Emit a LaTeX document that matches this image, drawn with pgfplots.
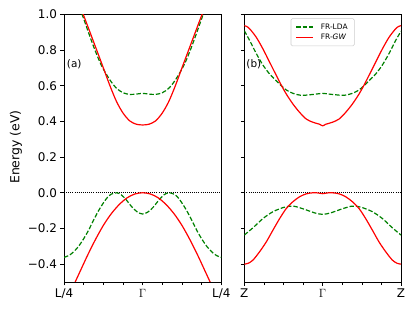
\documentclass[border=0pt]{standalone}
\usepackage{pgfplots}
\pgfplotsset{compat=1.18}
\usepackage{fontspec}
\setmainfont{DejaVu Sans}
\definecolor{mplgreen}{RGB}{0,128,0}
\definecolor{mplred}{RGB}{255,0,0}

\pgfplotsset{
  bandaxis/.style={
    scale only axis, width=157.3bp, height=267.7bp,
    xmin=-1, xmax=1, ymin=-0.5, ymax=1.0,
    tick align=outside, tick pos=left,
    xtick={-1,0,1},
    minor xtick={-0.75,-0.5,-0.25,0.25,0.5,0.75},
    ytick={-0.4,-0.2,0,0.2,0.4,0.6,0.8,1.0},
    major tick length=3.5bp, minor tick length=3bp,
    every tick/.style={black, line width=0.8bp},
    minor tick style={black, line width=0.6bp},
    axis line style={black, line width=0.8bp},
    tick label style={font=\fontsize{12}{14}\selectfont},
  },
  gw/.style={mplred, line width=1.2bp, smooth},
  lda/.style={mplgreen, line width=1.2bp, dash pattern=on 4.5bp off 2bp, smooth},
  zeroline/.style={black, line width=0.8bp, dash pattern=on 0.8bp off 1.3bp},
}

\begin{document}
\begin{tikzpicture}
\path (0,0) rectangle (415bp,311bp);

% ---------------- panel (a)
\begin{axis}[bandaxis, at={(64bp,29bp)}, anchor=south west,
  xticklabels={L/4,{\fontsize{13}{14}\selectfont$\Gamma$},L/4},
  yticklabels={−0.4,−0.2,0.0,0.2,0.4,0.6,0.8,1.0},
  every axis y label/.style={at={(axis description cs:-0.305,0.504)}, rotate=90, anchor=center},
  ylabel={Energy (eV)},
  ylabel style={font=\fontsize{12.5}{14}\selectfont},
]
\addplot[zeroline] coordinates {(-1,0) (1,0)};
% LDA conduction
\addplot[lda] coordinates {(-0.83,1.07) (-0.77,1.0) (-0.69,0.90) (-0.607,0.80) (-0.52,0.71) (-0.416,0.632) (-0.331,0.585) (-0.247,0.56) (-0.162,0.551) (-0.08,0.553) (0,0.557) (0.08,0.553) (0.162,0.551) (0.247,0.56) (0.331,0.585) (0.416,0.632) (0.52,0.71) (0.607,0.80) (0.69,0.90) (0.77,1.0) (0.83,1.07)};
% GW conduction
\addplot[gw] coordinates {(-0.82,1.07) (-0.756,1.0) (-0.67,0.90) (-0.585,0.80) (-0.50,0.70) (-0.416,0.60) (-0.331,0.51) (-0.247,0.445) (-0.162,0.402) (-0.08,0.384) (0,0.38) (0.08,0.384) (0.162,0.402) (0.247,0.445) (0.331,0.51) (0.416,0.60) (0.50,0.70) (0.585,0.80) (0.67,0.90) (0.756,1.0) (0.82,1.07)};
% LDA valence
\addplot[lda] coordinates {(-1,-0.362) (-0.94,-0.352) (-0.883,-0.333) (-0.82,-0.303) (-0.756,-0.262) (-0.69,-0.212) (-0.628,-0.157) (-0.56,-0.10) (-0.501,-0.058) (-0.45,-0.027) (-0.40,-0.008) (-0.331,0) (-0.27,-0.012) (-0.204,-0.042) (-0.14,-0.078) (-0.07,-0.107) (0,-0.119) (0.07,-0.107) (0.14,-0.078) (0.204,-0.042) (0.27,-0.012) (0.331,0) (0.40,-0.008) (0.45,-0.027) (0.501,-0.058) (0.56,-0.10) (0.628,-0.157) (0.69,-0.212) (0.756,-0.262) (0.82,-0.303) (0.883,-0.333) (0.94,-0.352) (1,-0.362)};
% GW valence
\addplot[gw] coordinates {(-0.95,-0.585) (-0.9,-0.54) (-0.8,-0.445) (-0.7,-0.35) (-0.6,-0.262) (-0.5,-0.183) (-0.4,-0.118) (-0.3,-0.067) (-0.2,-0.029) (-0.1,-0.007) (0,0) (0.1,-0.007) (0.2,-0.029) (0.3,-0.067) (0.4,-0.118) (0.5,-0.183) (0.6,-0.262) (0.7,-0.35) (0.8,-0.445) (0.9,-0.54) (0.95,-0.585)};
\node[anchor=west, font=\fontsize{10.5}{12}\selectfont, inner sep=0pt] at (axis cs:-0.965,0.72) {(a)};
\end{axis}

% ---------------- panel (b)
\begin{axis}[bandaxis, at={(244.3bp,29bp)}, anchor=south west, width=156.7bp,
  xticklabels={Z,{\fontsize{13}{14}\selectfont$\Gamma$},Z},
  yticklabels={},
  legend cell align=left,
  legend style={at={(0.5,0.985)}, anchor=north, font=\fontsize{7.5}{8.5}\selectfont,
    draw=black!20, line width=0.6bp, rounded corners=1.5bp, fill=white,
    inner xsep=4.5bp, inner ysep=3.5bp, row sep=0.3bp,
    nodes={inner xsep=1bp, inner ysep=1.5bp},
    /tikz/every odd column/.append style={column sep=6bp}},
]
\addlegendimage{legend image code/.code={\draw[mplgreen, line width=1.4bp, dash pattern=on 4.5bp off 2bp] (0bp,0bp) -- (17bp,0bp);}}
\addlegendentry{\makebox[28bp][l]{FR-LDA}}
\addlegendimage{legend image code/.code={\fill[mplred, draw=none, rounded corners=0pt] (0bp,-0.7bp) rectangle (17bp,0.7bp);}}
\addlegendentry{\makebox[28bp][l]{FR-\textit{GW}}}
% LDA conduction
\addplot[lda, forget plot] coordinates {(-1,0.908) (-0.93,0.852) (-0.847,0.78) (-0.761,0.715) (-0.676,0.665) (-0.592,0.628) (-0.528,0.600) (-0.464,0.576) (-0.379,0.557) (-0.272,0.546) (-0.166,0.549) (-0.08,0.553) (0,0.557) (0.08,0.553) (0.166,0.549) (0.272,0.546) (0.379,0.557) (0.464,0.576) (0.528,0.600) (0.592,0.628) (0.676,0.665) (0.761,0.715) (0.847,0.78) (0.93,0.852) (1,0.905)};
% GW conduction
\addplot[gw, forget plot] coordinates {(-1,0.936) (-0.97,0.932) (-0.93,0.918) (-0.847,0.871) (-0.761,0.805) (-0.676,0.731) (-0.592,0.658) (-0.528,0.603) (-0.464,0.553) (-0.379,0.497) (-0.293,0.45) (-0.209,0.413) (-0.124,0.395) (-0.04,0.384) (0,0.375) (0.04,0.384) (0.124,0.395) (0.209,0.413) (0.293,0.45) (0.379,0.497) (0.464,0.553) (0.528,0.603) (0.592,0.658) (0.676,0.731) (0.761,0.805) (0.847,0.871) (0.93,0.918) (0.97,0.932) (1,0.936)};
\addplot[zeroline, forget plot] coordinates {(-1,0) (1,0)};
% LDA valence
\addplot[lda, forget plot] coordinates {(-1,-0.237) (-0.889,-0.196) (-0.761,-0.144) (-0.634,-0.106) (-0.506,-0.083) (-0.45,-0.077) (-0.37,-0.075) (-0.293,-0.084) (-0.204,-0.097) (-0.1,-0.113) (0,-0.121) (0.1,-0.113) (0.204,-0.097) (0.293,-0.084) (0.37,-0.075) (0.45,-0.077) (0.506,-0.083) (0.634,-0.106) (0.761,-0.144) (0.889,-0.196) (1,-0.237)};
% GW valence
\addplot[gw, forget plot] coordinates {(-1,-0.40) (-0.95,-0.395) (-0.889,-0.377) (-0.804,-0.33) (-0.719,-0.275) (-0.634,-0.209) (-0.548,-0.144) (-0.464,-0.088) (-0.379,-0.05) (-0.293,-0.022) (-0.209,-0.006) (-0.124,0) (-0.06,-0.001) (0,-0.005) (0.06,-0.001) (0.124,0) (0.209,-0.006) (0.293,-0.022) (0.379,-0.05) (0.464,-0.088) (0.548,-0.144) (0.634,-0.209) (0.719,-0.275) (0.804,-0.33) (0.889,-0.377) (0.95,-0.395) (1,-0.40)};
\node[anchor=west, font=\fontsize{10.5}{12}\selectfont, inner sep=0pt] at (axis cs:-0.975,0.72) {(b)};
\end{axis}
\end{tikzpicture}
\end{document}
